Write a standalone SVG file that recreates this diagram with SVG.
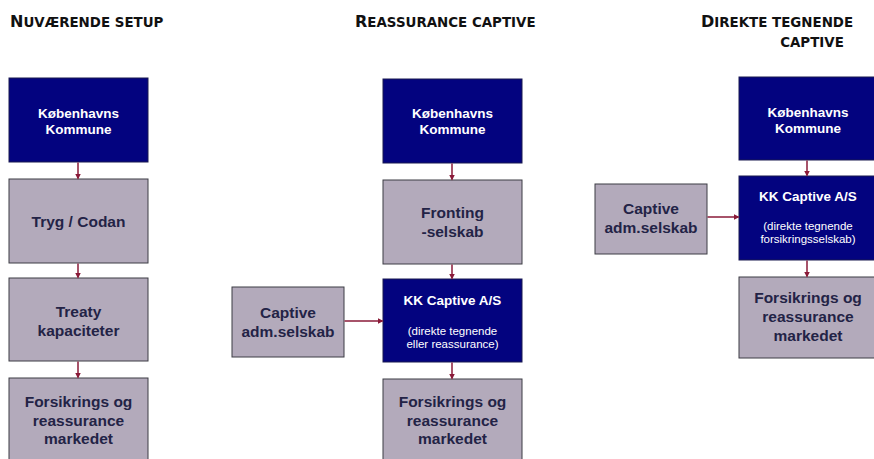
<svg xmlns="http://www.w3.org/2000/svg" width="874" height="459" viewBox="0 0 874 459">
<defs>
<marker id="ah" markerWidth="6" markerHeight="6" refX="5" refY="3" orient="auto" markerUnits="userSpaceOnUse">
<path d="M0,0 L6,3 L0,6 Z" fill="#8a1a38"/>
</marker>
<style>
.navy{fill:#03037f;stroke:#1a1a50;stroke-width:1}
.gray{fill:#b3aabb;stroke:#3c3c44;stroke-width:1}
.wt{fill:#ffffff;font-family:"Liberation Sans",Arial,sans-serif;font-weight:bold;font-size:13.5px;text-anchor:middle}
.ws{fill:#ffffff;font-family:"Liberation Sans",Arial,sans-serif;font-size:11.5px;text-anchor:middle}
.gt{fill:#232346;font-family:"Liberation Sans",Arial,sans-serif;font-weight:bold;font-size:15.5px;text-anchor:middle}
.tt{fill:#111111;font-family:"DejaVu Sans",Verdana,sans-serif;font-weight:bold;font-size:13.4px}
.tt .b{font-size:16px}
.cn{stroke:#8a1a38;stroke-width:1.5;fill:none;marker-end:url(#ah)}
</style>
</defs>
<rect width="874" height="459" fill="#ffffff"/>

<g id="titles">
<text class="tt" x="10" y="27"><tspan class="b">N</tspan>UVÆRENDE SETUP</text>
<text class="tt" x="355" y="27"><tspan class="b">R</tspan>EASSURANCE CAPTIVE</text>
<text class="tt" x="701" y="27"><tspan class="b">D</tspan>IREKTE TEGNENDE</text>
<text class="tt" x="812" y="47" text-anchor="middle">CAPTIVE</text>
</g>

<!-- Column 1 -->
<g id="c1-kbh">
<rect class="navy" x="9" y="78" width="139" height="84"/>
<text class="wt" x="78.5" y="118">Københavns</text>
<text class="wt" x="78.5" y="134">Kommune</text>
</g>
<g id="c1-tryg">
<rect class="gray" x="9" y="179" width="139" height="84"/>
<text class="gt" x="78.5" y="227">Tryg / Codan</text>
</g>
<g id="c1-treaty">
<rect class="gray" x="9" y="278" width="139" height="83"/>
<text class="gt" x="78.5" y="317">Treaty</text>
<text class="gt" x="78.5" y="336">kapaciteter</text>
</g>
<g id="c1-market">
<rect class="gray" x="9" y="378" width="139" height="90"/>
<text class="gt" x="78.5" y="407">Forsikrings og</text>
<text class="gt" x="78.5" y="426">reassurance</text>
<text class="gt" x="78.5" y="444">markedet</text>
</g>

<!-- Column 2 -->
<g id="c2-kbh">
<rect class="navy" x="383" y="79" width="139" height="84"/>
<text class="wt" x="452.5" y="118">Københavns</text>
<text class="wt" x="452.5" y="134">Kommune</text>
</g>
<g id="c2-fronting">
<rect class="gray" x="383" y="180" width="139" height="84"/>
<text class="gt" x="452.5" y="218">Fronting</text>
<text class="gt" x="452.5" y="237">-selskab</text>
</g>
<g id="c2-kk">
<rect class="navy" x="383" y="279" width="139" height="83"/>
<text class="wt" x="452.5" y="305">KK Captive A/S</text>
<text class="ws" x="452.5" y="335">(direkte tegnende</text>
<text class="ws" x="452.5" y="348">eller reassurance)</text>
</g>
<g id="c2-adm">
<rect class="gray" x="232" y="287" width="112" height="70"/>
<text class="gt" x="288" y="318">Captive</text>
<text class="gt" x="288" y="337">adm.selskab</text>
</g>
<g id="c2-market">
<rect class="gray" x="383" y="379" width="139" height="90"/>
<text class="gt" x="452.5" y="407">Forsikrings og</text>
<text class="gt" x="452.5" y="426">reassurance</text>
<text class="gt" x="452.5" y="444">markedet</text>
</g>

<!-- Column 3 -->
<g id="c3-kbh">
<rect class="navy" x="739" y="77" width="139" height="83"/>
<text class="wt" x="808" y="117">Københavns</text>
<text class="wt" x="808" y="133">Kommune</text>
</g>
<g id="c3-kk">
<rect class="navy" x="739" y="176" width="139" height="84"/>
<text class="wt" x="808" y="201">KK Captive A/S</text>
<text class="ws" x="808" y="230">(direkte tegnende</text>
<text class="ws" x="808" y="243">forsikringsselskab)</text>
</g>
<g id="c3-adm">
<rect class="gray" x="595" y="184" width="112" height="70"/>
<text class="gt" x="651" y="214">Captive</text>
<text class="gt" x="651" y="233">adm.selskab</text>
</g>
<g id="c3-market">
<rect class="gray" x="739" y="277" width="139" height="81"/>
<text class="gt" x="808" y="303">Forsikrings og</text>
<text class="gt" x="808" y="322">reassurance</text>
<text class="gt" x="808" y="341">markedet</text>
</g>

<g id="connectors">
<line class="cn" x1="78" y1="162.5" x2="78" y2="178.5"/>
<line class="cn" x1="78" y1="263.5" x2="78" y2="277.5"/>
<line class="cn" x1="78" y1="361.5" x2="78" y2="377.5"/>
<line class="cn" x1="452" y1="163.5" x2="452" y2="179.5"/>
<line class="cn" x1="452" y1="264.5" x2="452" y2="278.5"/>
<line class="cn" x1="452" y1="362.5" x2="452" y2="378.5"/>
<line class="cn" x1="344.5" y1="321" x2="382.5" y2="321"/>
<line class="cn" x1="807" y1="160.5" x2="807" y2="175.5"/>
<line class="cn" x1="807" y1="260.5" x2="807" y2="276.5"/>
<line class="cn" x1="707.5" y1="217" x2="738.5" y2="217"/>
</g>
</svg>
